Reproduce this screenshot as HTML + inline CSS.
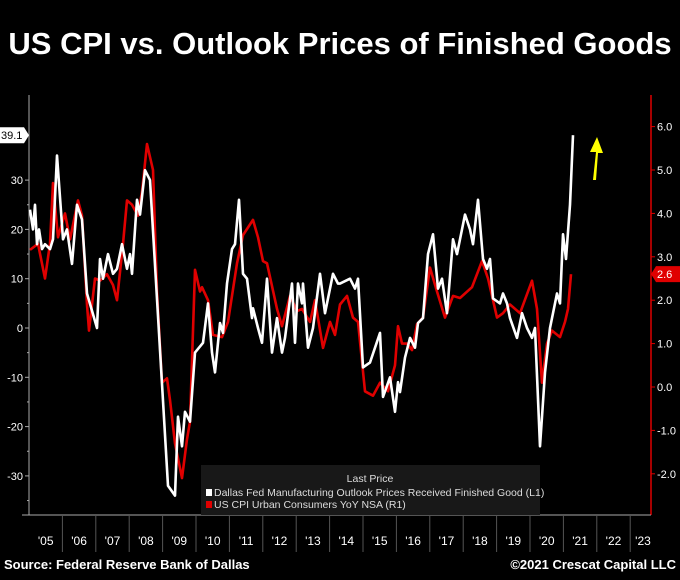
<!DOCTYPE html>
<html><head><meta charset="utf-8"><style>
body{margin:0;background:#000;width:680px;height:575px;overflow:hidden;font-family:"Liberation Sans",sans-serif}
</style></head><body>
<svg id="c" width="680" height="575" xmlns="http://www.w3.org/2000/svg">
<text x="340" y="54" fill="#fff" font-size="31" font-weight="bold" text-anchor="middle" font-family="Liberation Sans, sans-serif">US CPI vs. Outlook Prices of Finished Goods</text>
<text x="4" y="569" fill="#fff" font-size="13" font-weight="bold">Source: Federal Reserve Bank of Dallas</text>
<text x="676" y="569" fill="#fff" font-size="13" font-weight="bold" text-anchor="end">©2021 Crescat Capital LLC</text>
<g id="g"></g>
</svg>
<script>
const years=["'05","'06","'07","'08","'09","'10","'11","'12","'13","'14","'15","'16","'17","'18","'19","'20","'21","'22","'23"];
const leftTicks=[30,20,10,0,-10,-20,-30];
const rightTicks=[6,5,4,3,2,1,0,-1,-2];
const dallasX=[30,33,35,37,39,42,45,50,53,57,63,67,72,77,82,87,97,100,103,108,113,117,122,127,130,132,137,140,145,150,168,175,178,182,185,190,195,203,208,212,215,220,223,227,232,235,239,243,247,252,253,258,262,267,272,277,282,285,292,295,298,302,303,308,313,320,325,333,338,340,350,355,358,363,370,380,383,390,395,398,400,405,410,415,418,423,428,433,438,442,447,453,457,465,470,473,478,483,487,490,493,500,503,507,510,517,522,527,532,535,540,545,550,557,560,563,566,570,573];
const dallasV=[24,20,25,17,20,16,17,16,18,35,18,20,13,25,22,7,0,14,10,15,11,12,17,12,15,11,26,23,32,30,-32,-34,-18,-24,-17,-19,-5,-3,5,-5,-9,1,-1,9,16,17,26,11,10,2,4,0,-3,10,-5,2,-5,-2,9,-3,9,5,9,-4,0,11,3,11,9,9,10,8,10,-8,-7,-1,-14,-10,-17,-11,-13,-6,-2,-4,1,2,15,19,8,10,3,18,15,23,20,17,26,14,12,14,6,5,7,5,2,-2,3,0,-2,0,-24,-9,0,7,5,19,14,25,39.1];
const cpiX=[30,38,45,50,53,58,65,70,78,82,87,89,95,100,107,113,117,123,127,132,138,142,147,153,157,162,167,170,175,182,187,190,195,200,202,208,213,222,228,237,243,253,258,263,267,277,282,290,297,302,310,315,323,330,335,340,347,353,358,365,373,380,388,395,398,402,407,412,417,423,430,437,445,453,460,472,482,488,497,503,510,520,532,537,542,547,552,560,565,568,571];
const cpiV=[3.16,3.3,2.5,3.3,4.7,3.45,4.0,3.4,4.3,3.95,1.9,1.3,2.5,2.45,2.6,2.35,2.0,3.3,4.3,4.2,3.95,4.5,5.6,5.0,2.2,0.1,0.2,-0.3,-1.3,-2.1,-1.2,-0.8,2.7,2.2,2.3,2.0,1.2,1.15,1.5,2.85,3.5,3.85,3.45,2.9,2.85,1.8,1.4,2.1,1.75,1.8,1.5,2.0,0.9,1.5,1.2,1.9,2.1,1.6,1.5,-0.1,-0.2,0.1,-0.1,0.5,1.4,1.0,1.0,0.85,1.45,1.6,2.75,2.2,1.6,2.1,2.05,2.3,2.9,2.5,1.6,1.7,1.9,1.7,2.45,1.8,0.1,1.0,1.3,1.15,1.5,1.8,2.6];
const NS="http://www.w3.org/2000/svg";
const g=document.getElementById('g');
const yL=v=>328-4.93*v, yR=v=>387-43.4*v;
function mk(t,a){const e=document.createElementNS(NS,t);for(const k in a)e.setAttribute(k,a[k]);g.appendChild(e);return e;}
let e;
e=mk('line',{x1:29,y1:95,x2:29,y2:515,stroke:'#aaa','stroke-width':1});


e=mk('line',{x1:651,y1:95,x2:651,y2:515,stroke:'#d00','stroke-width':1.5});


e=mk('line',{x1:22,y1:515,x2:651,y2:515,stroke:'#aaa','stroke-width':1});


leftTicks.forEach(v=>{
 mk('line',{x1:25,x2:29,y1:yL(v),y2:yL(v),stroke:'#aaa'});
 const t=mk('text',{x:23,y:yL(v)+4,fill:'#fff','font-size':11,'text-anchor':'end'});t.textContent=v;
 
 
 mk('line',{x1:27,x2:29,y1:yL(v-5),y2:yL(v-5),stroke:'#aaa'});
});
rightTicks.forEach(v=>{
 mk('line',{x1:651,x2:655,y1:yR(v),y2:yR(v),stroke:'#d00'});
 const t=mk('text',{x:657,y:yR(v)+4,fill:'#fff','font-size':11});t.textContent=v.toFixed(1);
 
 
});
years.forEach((y,i)=>{
 const x0=29+33.4*i;
 if(i>0){mk('line',{x1:x0,x2:x0,y1:515,y2:552,stroke:'#555'});}
 const t=mk('text',{x:Math.min(x0+16.7,643),y:545,fill:'#fff','font-size':12,'text-anchor':'middle'});t.textContent=y;
 
 
});
function line(xs,vs,f,c,n){
 const p=mk('polyline',{points:xs.map((x,i)=>x+','+f(vs[i]).toFixed(1)).join(' '),fill:'none',stroke:c,'stroke-width':2.6,'stroke-linejoin':'round'});
 
 
}
line(cpiX,cpiV,yR,'#e00000','cpi-line');
line(dallasX,dallasV,yL,'#fff','dallas-fed-line');
const lv=dallasV[dallasV.length-1], lc=cpiV[cpiV.length-1];
e=mk('path',{d:`M0 ${yL(lv)-8}H24L29 ${yL(lv)}L24 ${yL(lv)+8}H0Z`,fill:'#fff'});


e=mk('text',{x:1,y:yL(lv)+4,fill:'#000','font-size':11});e.textContent=lv.toFixed(1);


e=mk('path',{d:`M651 ${yR(lc)}L656 ${yR(lc)-8}H680V${yR(lc)+8}H656Z`,fill:'#e00000'});


e=mk('text',{x:657,y:yR(lc)+4,fill:'#fff','font-size':11});e.textContent=lc.toFixed(1);


e=mk('path',{d:'M593 180L596 152L590 152L597 137L603 153L598 153L596 180Z',fill:'#ffff00'});


e=mk('rect',{x:201,y:465,width:339,height:50,fill:'#181818'});


e=mk('text',{x:370,y:482,fill:'#ddd','font-size':10.5,'text-anchor':'middle'});e.textContent='Last Price';


mk('rect',{x:206,y:489,width:6,height:7,fill:'#fff'});
e=mk('text',{x:214,y:496,fill:'#ddd','font-size':10.5});e.textContent='Dallas Fed Manufacturing Outlook Prices Received Finished Good  (L1)';


mk('rect',{x:206,y:501,width:6,height:7,fill:'#e00000'});
e=mk('text',{x:214,y:508,fill:'#ddd','font-size':10.5});e.textContent='US CPI Urban Consumers YoY NSA  (R1)';


</script>
</body></html>
